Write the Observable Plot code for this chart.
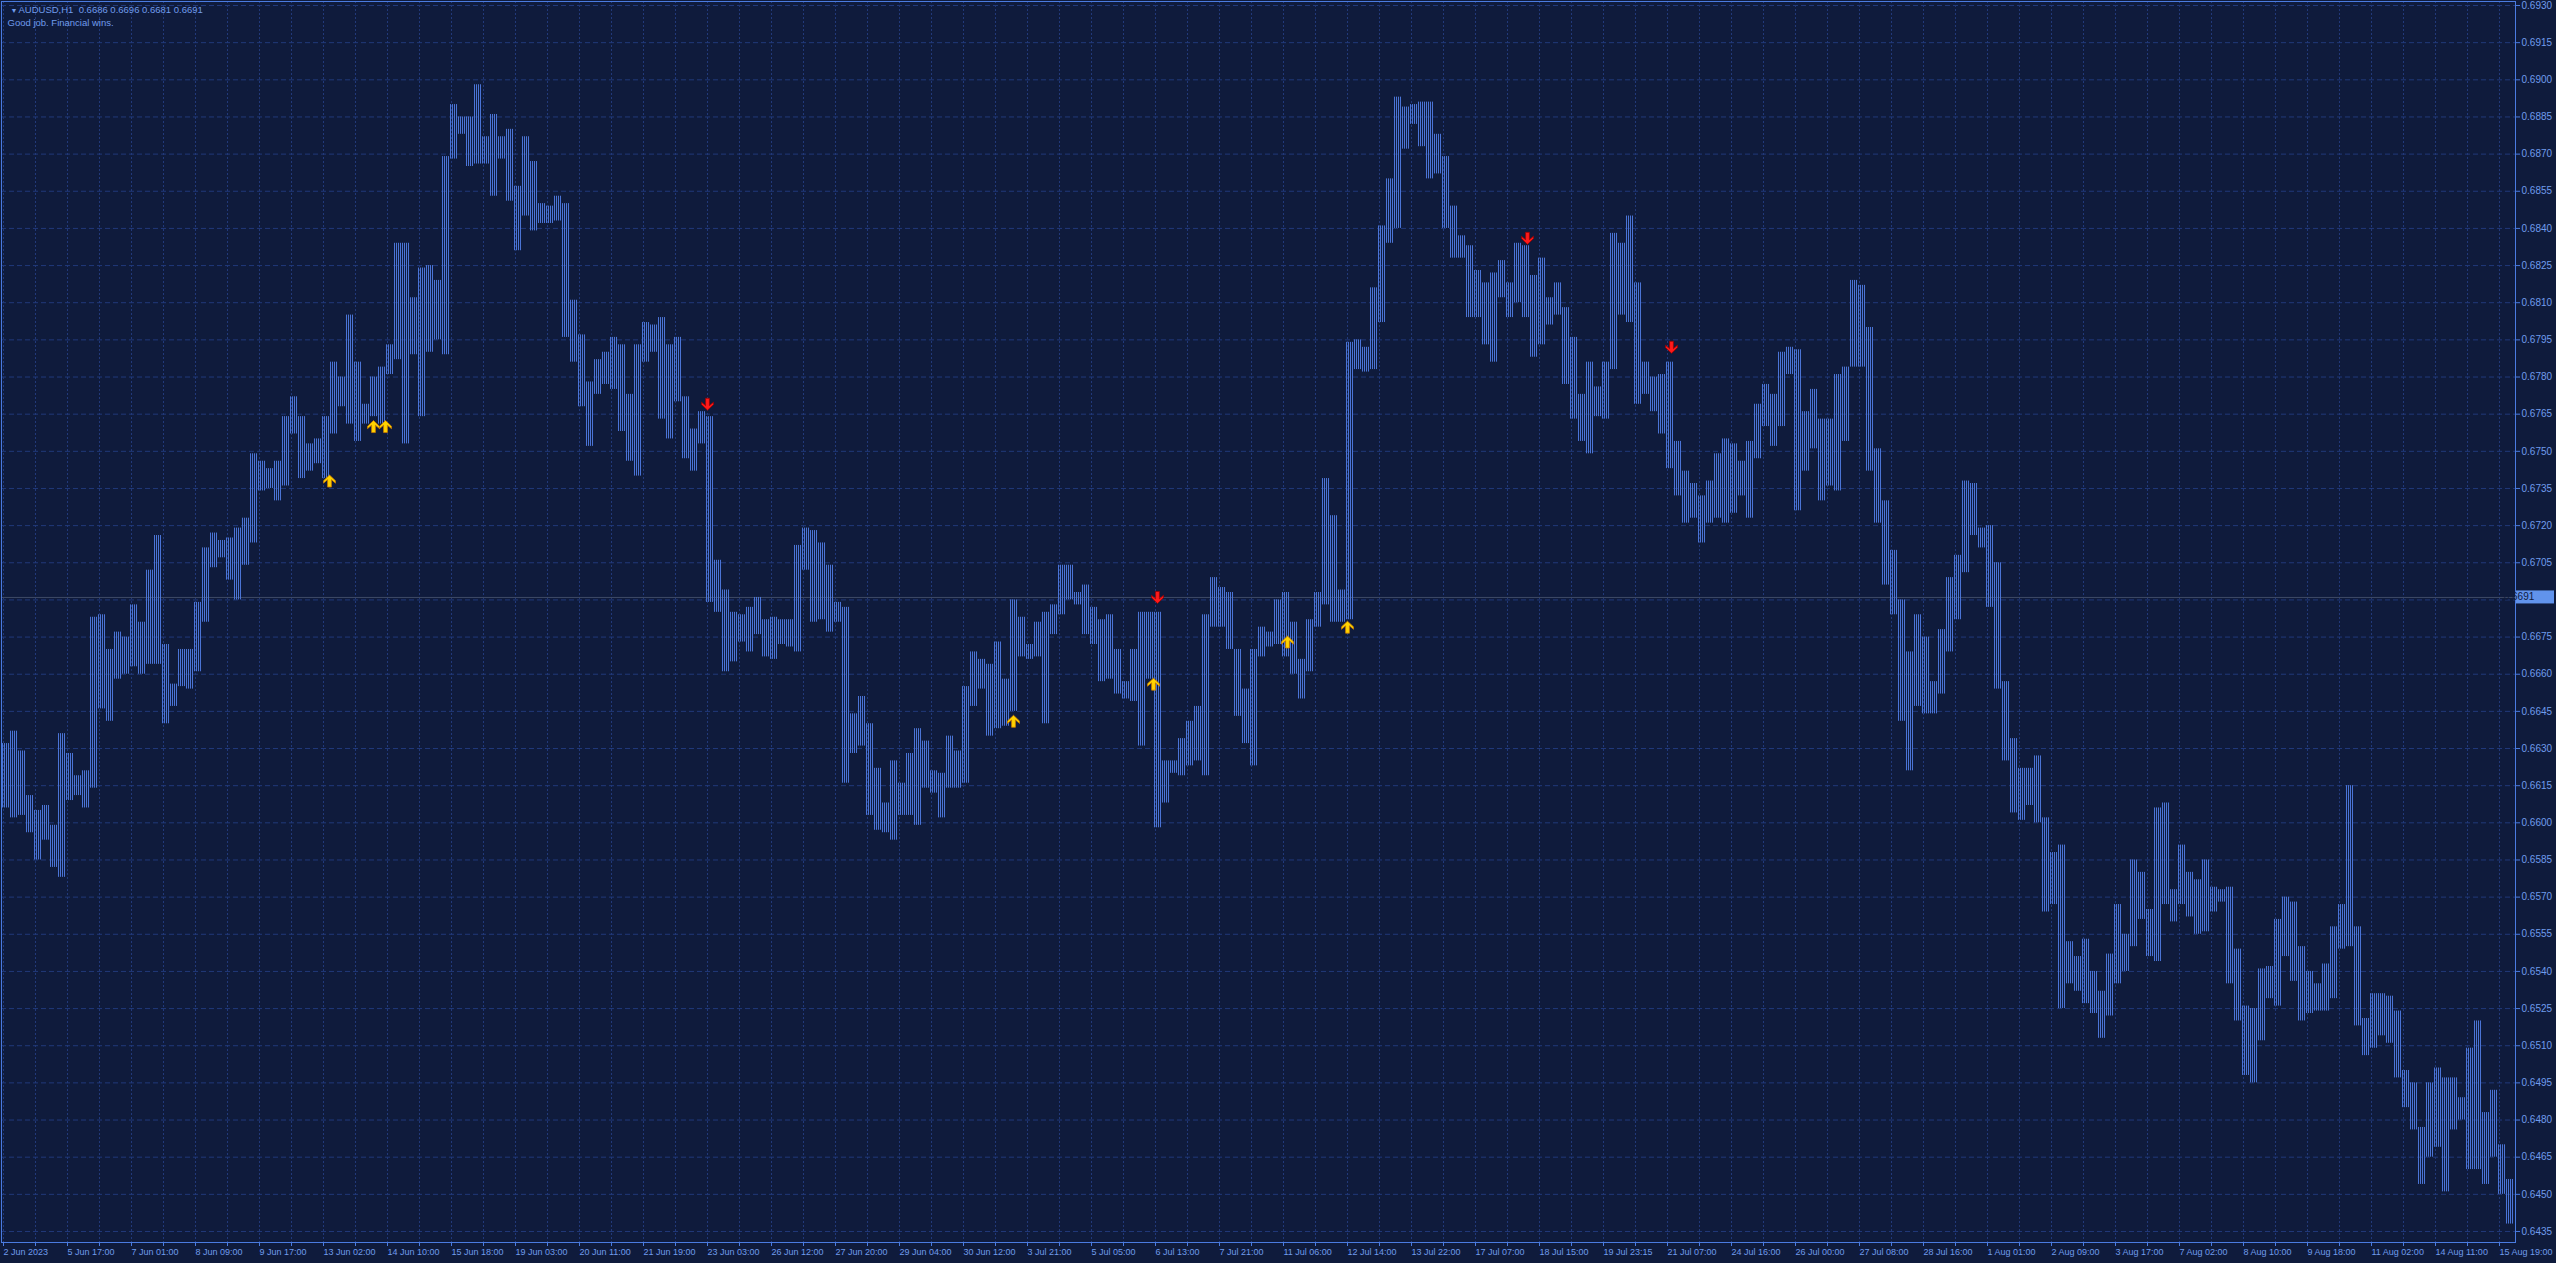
<!DOCTYPE html>
<html><head><meta charset="utf-8">
<script src="https://cdn.jsdelivr.net/npm/d3@7"></script>
<script src="https://cdn.jsdelivr.net/npm/@observablehq/plot@0.6"></script>
<style>
html,body{margin:0;padding:0;background:#0f1b3c;overflow:hidden}
#chart{position:relative;width:2556px;height:1263px}
</style></head><body><div id="chart"></div>
<script>
// ---------- data (AUDUSD H1, one entry per 4-bar block) ----------
const symbolLine = "AUDUSD,H1  0.6686 0.6696 0.6681 0.6691";
const commentLine = "Good job. Financial wins.";
const lastPrice = 0.6691;

const dateLabels = ["2 Jun 2023","5 Jun 17:00","7 Jun 01:00","8 Jun 09:00","9 Jun 17:00","13 Jun 02:00","14 Jun 10:00","15 Jun 18:00","19 Jun 03:00","20 Jun 11:00","21 Jun 19:00","23 Jun 03:00","26 Jun 12:00","27 Jun 20:00","29 Jun 04:00","30 Jun 12:00","3 Jul 21:00","5 Jul 05:00","6 Jul 13:00","7 Jul 21:00","11 Jul 06:00","12 Jul 14:00","13 Jul 22:00","17 Jul 07:00","18 Jul 15:00","19 Jul 23:15","21 Jul 07:00","24 Jul 16:00","26 Jul 00:00","27 Jul 08:00","28 Jul 16:00","1 Aug 01:00","2 Aug 09:00","3 Aug 17:00","7 Aug 02:00","8 Aug 10:00","9 Aug 18:00","11 Aug 02:00","14 Aug 11:00","15 Aug 19:00"];

const priceTicks = [0.6435,0.6450,0.6465,0.6480,0.6495,0.6510,0.6525,0.6540,0.6555,0.6570,0.6585,0.6600,0.6615,0.6630,0.6645,0.6660,0.6675,0.6690,0.6705,0.6720,0.6735,0.6750,0.6765,0.6780,0.6795,0.6810,0.6825,0.6840,0.6855,0.6870,0.6885,0.6900,0.6915,0.6930];

const barHigh = [
0.6632,0.6637,0.6629,0.6611,0.6605,0.6607,0.6599,0.6636,0.6628,0.6619,
0.6621,0.6683,0.6684,0.6670,0.6677,0.6675,0.6688,0.6681,0.6702,0.6716,
0.6672,0.6656,0.6670,0.6670,0.6689,0.6711,0.6717,0.6714,0.6715,0.6719,
0.6723,0.6749,0.6746,0.6743,0.6746,0.6764,0.6772,0.6764,0.6753,0.6755,
0.6764,0.6786,0.6780,0.6805,0.6786,0.6769,0.6780,0.6784,0.6793,0.6834,
0.6834,0.6812,0.6824,
0.6825,0.6819,0.6869,0.6890,0.6885,0.6885,0.6898,
0.6877,0.6886,0.6877,0.6880,0.6857,0.6877,0.6867,0.6850,0.6849,0.6853,
0.6850,0.6811,0.6797,0.6778,0.6787,0.6790,0.6796,0.6793,0.6773,0.6793,
0.6802,0.6801,0.6804,0.6793,0.6796,0.6772,0.6759,0.6766,0.6764,0.6706,
0.6694,0.6685,0.6684,0.6687,0.6691,0.6682,0.6683,0.6682,0.6682,0.6712,
0.6719,0.6718,0.6713,0.6704,0.6689,
0.6687,0.6644,0.6651,0.6640,0.6622,
0.6608,0.6625,0.6616,0.6628,0.6638,0.6633,0.6621,0.6620,0.6635,0.6629,
0.6655,0.6669,0.6666,0.6664,0.6673,0.6658,0.6690,0.6683,0.6672,0.6681,
0.6685,0.6688,0.6704,0.6704,0.6693,0.6696,0.6687,0.6682,0.6684,0.6670,
0.6657,0.6670,0.6685,0.6685,0.6685,0.6625,0.6625,0.6634,0.6641,0.6647,
0.6684,0.6699,0.6695,0.6693,0.6670,0.6654,0.6670,0.6679,
0.6677,0.6690,0.6693,0.6681,0.6666,0.6682,0.6693,0.6739,0.6724,0.6694,0.6794,0.6795,
0.6792,0.6816,0.6841,0.6860,0.6893,0.6889,0.6890,0.6891,0.6891,0.6878,
0.6869,0.6849,0.6837,0.6833,0.6823,0.6818,0.6822,0.6827,0.6818,0.6834,
0.6833,0.6821,0.6828,0.6812,0.6818,0.6808,0.6796,0.6773,0.6786,0.6776,
0.6786,0.6838,0.6834,0.6845,0.6818,0.6786,0.6780,0.6781,0.6786,0.6754,
0.6742,0.6737,0.6732,0.6738,0.6749,0.6755,0.6753,0.6746,0.6754,0.6769,
0.6777,0.6773,0.6790,0.6792,0.6791,0.6766,0.6775,0.6763,0.6763,0.6781,
0.6784,0.6819,0.6817,0.6800,0.6751,0.6730,0.6710,0.6690,0.6669,0.6684,
0.6675,0.6657,0.6678,0.6699,0.6708,0.6738,0.6737,0.6719,0.6720,0.6705,
0.6657,0.6634,0.6622,0.6622,0.6627,0.6602,0.6588,0.6591,0.6552,0.6546,
0.6553,0.6540,0.6532,
0.6547,0.6567,0.6555,0.6585,0.6580,0.6565,0.6606,
0.6608,0.6573,0.6591,0.6580,0.6577,0.6585,0.6574,0.6573,0.6574,0.6549,
0.6526,0.6525,0.6541,0.6542,0.6561,0.6570,0.6568,0.6550,0.6540,0.6535,
0.6543,0.6558,0.6567,0.6615,0.6558,0.6521,0.6531,0.6531,0.6530,0.6524,
0.6500,0.6495,0.6477,0.6495,0.6501,0.6497,0.6497,0.6489,0.6509,0.6520,
0.6483,0.6492,0.6470,0.6456
];

const barLow = [
0.6606,0.6602,0.6603,0.6596,0.6585,0.6593,0.6582,0.6578,0.6609,0.6611,
0.6606,0.6614,0.6646,0.6641,0.6658,0.6660,0.6663,0.6660,0.6664,0.6664,
0.6640,0.6647,0.6655,0.6654,0.6661,0.6681,0.6703,0.6707,0.6698,0.6690,
0.6704,0.6713,0.6734,0.6735,0.6730,0.6736,0.6757,0.6739,0.6742,0.6745,
0.6739,0.6757,0.6768,0.6761,0.6754,0.6761,0.6764,0.6761,0.6781,0.6787,
0.6753,0.6789,0.6764,
0.6790,0.6795,0.6789,0.6868,0.6878,0.6865,0.6866,
0.6866,0.6853,0.6868,0.6851,0.6831,0.6845,0.6839,0.6842,0.6842,0.6843,
0.6796,0.6786,0.6768,0.6752,0.6773,0.6777,0.6775,0.6758,0.6746,0.6740,
0.6786,0.6790,0.6763,0.6755,0.6770,0.6747,0.6742,0.6753,0.6689,0.6685,
0.6661,0.6665,0.6673,0.6669,0.6676,0.6667,0.6666,0.6672,0.6671,0.6669,
0.6702,0.6681,0.6682,0.6677,0.6681,
0.6616,0.6628,0.6631,0.6603,0.6597,
0.6596,0.6593,0.6603,0.6603,0.6599,0.6614,0.6612,0.6602,0.6614,0.6614,
0.6616,0.6647,0.6654,0.6635,0.6638,0.6639,0.6645,0.6667,0.6666,0.6667,
0.6640,0.6676,0.6684,0.6690,0.6688,0.6676,0.6672,0.6657,0.6658,0.6652,
0.6650,0.6649,0.6631,0.6658,0.6598,0.6608,0.6620,0.6619,0.6623,0.6625,
0.6619,0.6679,0.6679,0.6670,0.6643,0.6632,0.6623,0.6667,
0.6671,0.6672,0.6667,0.6660,0.6650,0.6661,0.6679,0.6688,0.6681,0.6681,0.6682,0.6783,
0.6782,0.6783,0.6802,0.6834,0.6840,0.6872,0.6882,0.6873,0.6860,0.6862,
0.6840,0.6828,0.6828,0.6804,0.6804,0.6793,0.6786,0.6812,0.6804,0.6810,
0.6804,0.6788,0.6793,0.6801,0.6805,0.6777,0.6763,0.6754,0.6749,0.6764,
0.6763,0.6783,0.6805,0.6802,0.6769,0.6773,0.6766,0.6757,0.6743,0.6732,
0.6721,0.6723,0.6713,0.6721,0.6723,0.6721,0.6725,0.6732,0.6723,0.6747,
0.6760,0.6752,0.6760,0.6781,0.6726,0.6742,0.6751,0.6730,0.6736,0.6734,
0.6754,0.6784,0.6784,0.6742,0.6721,0.6696,0.6684,0.6641,0.6621,0.6647,
0.6644,0.6644,0.6652,0.6669,0.6682,0.6701,0.6716,0.6711,0.6687,0.6654,
0.6625,0.6604,0.6601,0.6607,0.6600,0.6564,0.6567,0.6525,0.6535,0.6532,
0.6527,0.6523,0.6513,
0.6522,0.6535,0.6540,0.6550,0.6561,0.6546,0.6544,
0.6567,0.6560,0.6567,0.6562,0.6555,0.6556,0.6564,0.6568,0.6535,0.6520,
0.6498,0.6495,0.6512,0.6529,0.6526,0.6546,0.6536,0.6520,0.6523,0.6524,
0.6524,0.6529,0.6549,0.6550,0.6518,0.6506,0.6509,0.6514,0.6511,0.6497,
0.6485,0.6476,0.6454,0.6465,0.6469,0.6451,0.6476,0.6480,0.6460,0.6460,
0.6454,0.6465,0.6450,0.6438
];

// signal arrows: bar index and price of the glyph
const upArrowBar   = [163, 185, 191, 505, 575, 642, 672];
const upArrowPrice = [0.6738, 0.6760, 0.6760, 0.6641, 0.6656, 0.6673, 0.6679];
const downArrowBar   = [352, 577, 762, 834];
const downArrowPrice = [0.6769, 0.6691, 0.6836, 0.6792];

// ---------- style ----------
const BG = "#0f1b3c", GRID = "#21397a", BAR = "#4a74d6", FRAME = "#4a7be0",
      TEXT = "#6f9cec", PRICE_LINE = "#3f4b66", MARK = "#6193ec";
const FONT = "'Liberation Sans', Arial, sans-serif";
const BARS_PER_BLOCK = 4;

const bars = barHigh.map((h, j) => ({x1: j * BARS_PER_BLOCK - 0.5, x2: (j + 1) * BARS_PER_BLOCK - 0.5, hi: h, lo: barLow[j]}));
const ups = upArrowBar.map((b, k) => ({x: b, y: upArrowPrice[k]}));
const downs = downArrowBar.map((b, k) => ({x: b, y: downArrowPrice[k]}));
const gridBars = d3.range(0, 1249, 16);

const arrowUp = {draw(ctx, size) {
  const r = Math.sqrt(size / Math.PI);
  ctx.moveTo(0, -r); ctx.lineTo(r, -0.05 * r); ctx.lineTo(r, 0.35 * r);
  ctx.lineTo(0.32 * r, -0.22 * r); ctx.lineTo(0.32 * r, r); ctx.lineTo(-0.32 * r, r);
  ctx.lineTo(-0.32 * r, -0.22 * r); ctx.lineTo(-r, 0.35 * r); ctx.lineTo(-r, -0.05 * r);
  ctx.closePath();
}};
const arrowDown = {draw(ctx, size) {
  const r = Math.sqrt(size / Math.PI);
  ctx.moveTo(0, r); ctx.lineTo(r, 0.05 * r); ctx.lineTo(r, -0.35 * r);
  ctx.lineTo(0.32 * r, 0.22 * r); ctx.lineTo(0.32 * r, -r); ctx.lineTo(-0.32 * r, -r);
  ctx.lineTo(-0.32 * r, 0.22 * r); ctx.lineTo(-r, -0.35 * r); ctx.lineTo(-r, 0.05 * r);
  ctx.closePath();
}};

const W = 2556, H = 1263, ML = 1, MR = 41, MT = 1, MB = 21;
const fmt = d3.format(".4f");

const plot = Plot.plot({
  width: W, height: H,
  marginLeft: ML, marginRight: MR, marginTop: MT, marginBottom: MB,
  style: {background: BG, color: TEXT, fontFamily: FONT, fontSize: "10px"},
  x: {domain: [-1, 1256], axis: null},
  y: {domain: [0.643055, 0.693162], axis: null},
  marks: [
    Plot.gridY(priceTicks, {stroke: GRID, strokeOpacity: 1, strokeDasharray: "5,3"}),
    Plot.gridX(gridBars, {stroke: GRID, strokeOpacity: 1, strokeDasharray: "2,2"}),
    Plot.ruleY([lastPrice], {stroke: PRICE_LINE, strokeWidth: 1}),
    // each 4-bar block is painted with 1px bar stripes on a 2px pitch, like the terminal's hourly bars
    Plot.rect(bars, {x1: "x1", x2: "x2", y1: "lo", y2: "hi", fill: "url(#barStripes)"}),
    Plot.dot(ups, {x: "x", y: "y", r: 6, symbol: arrowUp, fill: "#ffd400", stroke: "#c97a00", strokeWidth: 0.8}),
    Plot.dot(downs, {x: "x", y: "y", r: 6, symbol: arrowDown, fill: "#ff1a1a", stroke: "#9a0000", strokeWidth: 0.8}),
    Plot.frame({stroke: FRAME}),
    Plot.axisY(priceTicks, {anchor: "right", tickFormat: (d) => Math.abs(d - lastPrice) < 0.0005 ? "" : fmt(d),
      tickSize: 4, tickPadding: 2, stroke: FRAME, fill: TEXT, fontSize: 10, label: null}),
    Plot.axisX(gridBars, {anchor: "bottom", tickFormat: (d) => d % 32 === 0 ? dateLabels[d / 32] : "",
      textAnchor: "start", tickSize: 4, tickPadding: 2, stroke: FRAME, fill: TEXT, fontSize: 9, label: null}),
    Plot.text(["\u25BC"], {frameAnchor: "top-left", dx: 9, dy: 7, fontSize: 7, fill: TEXT}),
    Plot.text([symbolLine], {frameAnchor: "top-left", dx: 17, dy: 5, textAnchor: "start", lineAnchor: "top", fill: TEXT, fontSize: 9.5}),
    Plot.text([commentLine], {frameAnchor: "top-left", dx: 6, dy: 18, textAnchor: "start", lineAnchor: "top", fill: TEXT, fontSize: 9.5})
  ]
});

const svg = d3.select(plot);
// stripe pattern used to paint the bars
const pat = svg.insert("defs", ":first-child").append("pattern")
  .attr("id", "barStripes").attr("patternUnits", "userSpaceOnUse")
  .attr("x", 0).attr("y", 0).attr("width", 2).attr("height", 8);
pat.append("rect").attr("x", 0).attr("y", 0).attr("width", 1).attr("height", 8).attr("fill", BAR);

// last-price marker box on the price axis
const yPos = plot.scale("y").apply(lastPrice);
const g = svg.append("g");
g.append("rect").attr("x", W - MR + 1).attr("y", yPos - 6.5).attr("width", MR - 3).attr("height", 13).attr("fill", MARK);
g.append("text").attr("x", W - MR + 4).attr("y", yPos).attr("dy", "0.35em")
  .attr("fill", BG).attr("font-size", 10).attr("font-family", FONT).text(fmt(lastPrice));

document.getElementById("chart").appendChild(plot);
</script></body></html>
